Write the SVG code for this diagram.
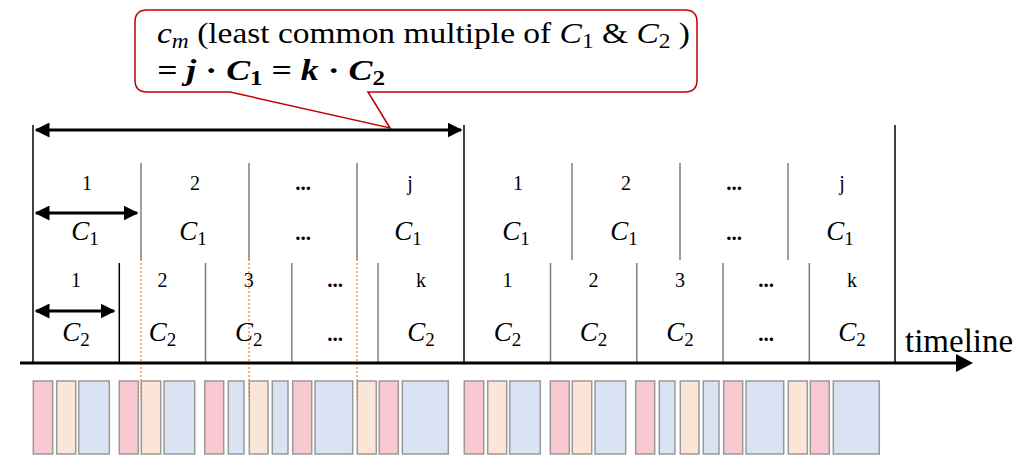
<svg xmlns="http://www.w3.org/2000/svg" width="1030" height="455" viewBox="0 0 1030 455">
<style>
.t{font-family:"Liberation Serif","DejaVu Serif",serif;fill:#000}
.n{font-size:20px;text-anchor:middle}
.d{font-size:21px;font-weight:bold;text-anchor:middle}
.c{font-size:27px;font-style:italic;text-anchor:middle}
.sub{font-size:19px;font-style:normal}
.g{stroke:#7f7f7f;stroke-width:1.5}
.k{stroke:#000;stroke-width:1.5}
.o{stroke:#ED7D31;stroke-width:1.2;stroke-dasharray:2 2}
.arr{stroke:#000;stroke-width:3;fill:none}
.pk{fill:#F9C9D2;stroke:#999;stroke-width:1.5}
.pe{fill:#FBE5D6;stroke:#999;stroke-width:1.5}
.bl{fill:#DAE3F3;stroke:#999;stroke-width:1.5}
</style>
<defs>
<marker id="ah" viewBox="0 0 10 10" refX="9" refY="5" markerWidth="5" markerHeight="5" orient="auto-start-reverse" markerUnits="strokeWidth">
<path d="M0,0 L10,5 L0,10 z" fill="#000"/>
</marker>
</defs>

<g id="callout">
<path d="M147,10 H685 Q697,10 697,22 V80 Q697,92 685,92 H368 L390,128 L230,92 H147 Q135,92 135,80 V22 Q135,10 147,10 Z" fill="#fff" stroke="#C00000" stroke-width="1.5"/>
<text class="t" x="157" y="43" font-size="30" textLength="533" lengthAdjust="spacingAndGlyphs"><tspan font-style="italic">c</tspan><tspan font-style="italic" font-size="21" dy="5">m</tspan><tspan dy="-5"> (least common multiple of </tspan><tspan font-style="italic">C</tspan><tspan font-size="21" dy="5">1</tspan><tspan dy="-5"> &amp; </tspan><tspan font-style="italic">C</tspan><tspan font-size="21" dy="5">2</tspan><tspan dy="-5"> )</tspan></text>
<text class="t" x="157" y="80" font-size="30" font-weight="bold" font-style="italic" textLength="228" lengthAdjust="spacingAndGlyphs">= <tspan>j</tspan> <tspan font-style="normal">·</tspan> C<tspan font-size="21" dy="5" font-style="normal">1</tspan><tspan dy="-5" font-style="normal"> = </tspan>k <tspan font-style="normal">·</tspan> C<tspan font-size="21" dy="5" font-style="normal">2</tspan></text>
</g>

<g id="grid">
<line class="k" x1="33" y1="125" x2="33" y2="362"/>
<line class="k" x1="464" y1="125" x2="464" y2="362"/>
<line class="k" x1="895" y1="125" x2="895" y2="362"/>
<line class="g" x1="141" y1="163" x2="141" y2="260"/>
<line class="g" x1="249" y1="163" x2="249" y2="260"/>
<line class="g" x1="357" y1="163" x2="357" y2="260"/>
<line class="g" x1="572" y1="163" x2="572" y2="260"/>
<line class="g" x1="680" y1="163" x2="680" y2="260"/>
<line class="g" x1="788" y1="163" x2="788" y2="260"/>
<line class="k" x1="119.3" y1="263" x2="119.3" y2="362"/>
<line class="g" x1="205.5" y1="263" x2="205.5" y2="362"/>
<line class="g" x1="291.8" y1="263" x2="291.8" y2="362"/>
<line class="g" x1="378" y1="263" x2="378" y2="362"/>
<line class="g" x1="550.5" y1="263" x2="550.5" y2="362"/>
<line class="g" x1="636.8" y1="263" x2="636.8" y2="362"/>
<line class="g" x1="723" y1="263" x2="723" y2="362"/>
<line class="g" x1="809.3" y1="263" x2="809.3" y2="362"/>
<line class="o" x1="141" y1="255" x2="141" y2="397"/>
<line class="o" x1="249" y1="255" x2="249" y2="397"/>
<line class="o" x1="357" y1="255" x2="357" y2="397"/>
</g>

<g id="row1-labels">
<text class="t n" x="87" y="190">1</text>
<text class="t n" x="195" y="190">2</text>
<text class="t d" x="303" y="190">...</text>
<text class="t n" x="410" y="190">j</text>
<text class="t n" x="518" y="190">1</text>
<text class="t n" x="626" y="190">2</text>
<text class="t d" x="734" y="190">...</text>
<text class="t n" x="842" y="190">j</text>
<text class="t c" x="85" y="240">C<tspan class="sub" dy="5">1</tspan></text>
<text class="t c" x="193" y="240">C<tspan class="sub" dy="5">1</tspan></text>
<text class="t d" x="303" y="240">...</text>
<text class="t c" x="408" y="240">C<tspan class="sub" dy="5">1</tspan></text>
<text class="t c" x="516" y="240">C<tspan class="sub" dy="5">1</tspan></text>
<text class="t c" x="624" y="240">C<tspan class="sub" dy="5">1</tspan></text>
<text class="t d" x="734" y="240">...</text>
<text class="t c" x="840" y="240">C<tspan class="sub" dy="5">1</tspan></text>
</g>

<g id="row2-labels">
<text class="t n" x="76" y="287">1</text>
<text class="t n" x="162.5" y="287">2</text>
<text class="t n" x="248.7" y="287">3</text>
<text class="t d" x="335" y="287">...</text>
<text class="t n" x="421" y="287">k</text>
<text class="t n" x="507.5" y="287">1</text>
<text class="t n" x="593.6" y="287">2</text>
<text class="t n" x="680" y="287">3</text>
<text class="t d" x="766" y="287">...</text>
<text class="t n" x="852" y="287">k</text>
<text class="t c" x="76" y="341">C<tspan class="sub" dy="5">2</tspan></text>
<text class="t c" x="162.5" y="341">C<tspan class="sub" dy="5">2</tspan></text>
<text class="t c" x="248.7" y="341">C<tspan class="sub" dy="5">2</tspan></text>
<text class="t d" x="335" y="341">...</text>
<text class="t c" x="421" y="341">C<tspan class="sub" dy="5">2</tspan></text>
<text class="t c" x="507.5" y="341">C<tspan class="sub" dy="5">2</tspan></text>
<text class="t c" x="593.6" y="341">C<tspan class="sub" dy="5">2</tspan></text>
<text class="t c" x="680" y="341">C<tspan class="sub" dy="5">2</tspan></text>
<text class="t d" x="766" y="341">...</text>
<text class="t c" x="852" y="341">C<tspan class="sub" dy="5">2</tspan></text>
</g>

<g id="connectors">
<line class="arr" x1="36" y1="130" x2="461" y2="130" marker-start="url(#ah)" marker-end="url(#ah)"/>
<line class="arr" x1="36" y1="213" x2="137" y2="213" marker-start="url(#ah)" marker-end="url(#ah)" stroke-width="2.5"/>
<line class="arr" x1="36" y1="311" x2="114" y2="311" marker-start="url(#ah)" marker-end="url(#ah)" stroke-width="2.5"/>
<line class="arr" x1="20" y1="363" x2="958" y2="363"/>
<polygon points="956,354 973,363 956,372" fill="#000"/>
</g>

<g id="timeline-label">
<text class="t" x="905" y="352" font-size="33">timeline</text>
</g>

<g id="blocks">
<rect class="pk" x="33.3" y="381" width="19.4" height="73"/>
<rect class="pe" x="56.7" y="381" width="19" height="73"/>
<rect class="bl" x="78.7" y="381" width="30.6" height="73"/>
<rect class="pk" x="119.3" y="381" width="19" height="73"/>
<rect class="pe" x="141.3" y="381" width="19.4" height="73"/>
<rect class="bl" x="164" y="381" width="30.7" height="73"/>
<rect class="pk" x="204.7" y="381" width="19" height="73"/>
<rect class="bl" x="228.3" y="381" width="15.7" height="73"/>
<rect class="pe" x="249.3" y="381" width="18.7" height="73"/>
<rect class="bl" x="272.3" y="381" width="15.7" height="73"/>
<rect class="pk" x="292.7" y="381" width="19" height="73"/>
<rect class="bl" x="315" y="381" width="37.7" height="73"/>
<rect class="pe" x="357.3" y="381" width="19" height="73"/>
<rect class="pk" x="379.3" y="381" width="19" height="73"/>
<rect class="bl" x="402.3" y="381" width="46" height="73"/>
<rect class="pk" x="464.3" y="381" width="19.4" height="73"/>
<rect class="pe" x="487.7" y="381" width="19" height="73"/>
<rect class="bl" x="509.7" y="381" width="30.6" height="73"/>
<rect class="pk" x="550.3" y="381" width="19" height="73"/>
<rect class="pe" x="572.3" y="381" width="19.4" height="73"/>
<rect class="bl" x="595" y="381" width="30.7" height="73"/>
<rect class="pk" x="635.7" y="381" width="19" height="73"/>
<rect class="bl" x="659.3" y="381" width="15.7" height="73"/>
<rect class="pe" x="680.3" y="381" width="18.7" height="73"/>
<rect class="bl" x="703.3" y="381" width="15.7" height="73"/>
<rect class="pk" x="723.7" y="381" width="19" height="73"/>
<rect class="bl" x="746" y="381" width="37.7" height="73"/>
<rect class="pe" x="788.3" y="381" width="19" height="73"/>
<rect class="pk" x="810.3" y="381" width="19" height="73"/>
<rect class="bl" x="833.3" y="381" width="46" height="73"/>
</g>
</svg>
